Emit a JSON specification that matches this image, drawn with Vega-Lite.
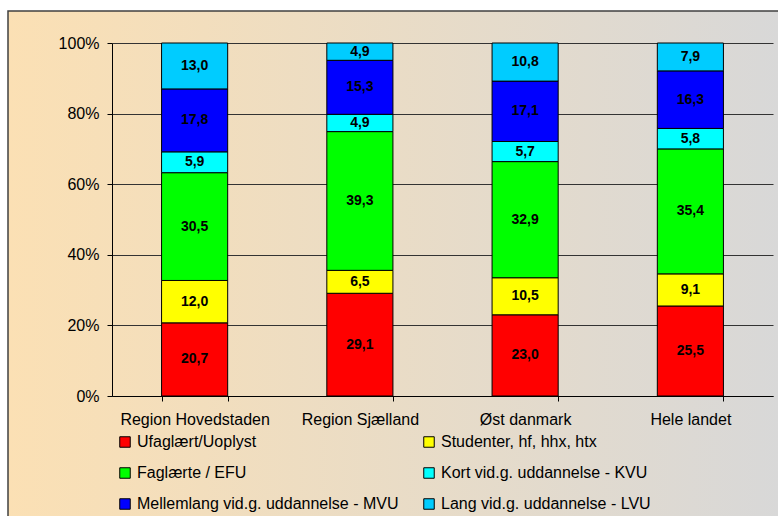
{
  "$schema": "https://vega.github.io/schema/vega-lite/v6.json",
  "width": 778,
  "height": 516,
  "autosize": {"type": "fit", "contains": "padding"},
  "padding": {"left": 8, "top": 11, "right": -3, "bottom": -3},
  "background": "white",
  "config": {
    "font": "Liberation Sans",
    "view": {
      "fill": {"gradient": "linear", "x1": 0, "y1": 0, "x2": 1, "y2": 0,
        "stops": [{"offset": 0, "color": "#FBE0B4"}, {"offset": 1, "color": "#D8D8D8"}]},
      "stroke": "#404040",
      "strokeWidth": 1.5
    },
    "axis": {"labelFont": "Liberation Sans", "labelColor": "#000000", "domainColor": "#000000", "tickColor": "#000000"}
  },
  "data": {"values": [
    {"region": "Region Hovedstaden", "cat": "Ufaglært/Uoplyst", "k": 1, "v": 20.7, "label": "20,7"},
    {"region": "Region Hovedstaden", "cat": "Studenter, hf, hhx, htx", "k": 2, "v": 12.0, "label": "12,0"},
    {"region": "Region Hovedstaden", "cat": "Faglærte / EFU", "k": 3, "v": 30.5, "label": "30,5"},
    {"region": "Region Hovedstaden", "cat": "Kort vid.g. uddannelse - KVU", "k": 4, "v": 5.9, "label": "5,9"},
    {"region": "Region Hovedstaden", "cat": "Mellemlang vid.g. uddannelse - MVU", "k": 5, "v": 17.8, "label": "17,8"},
    {"region": "Region Hovedstaden", "cat": "Lang vid.g. uddannelse - LVU", "k": 6, "v": 13.0, "label": "13,0"},
    {"region": "Region Sjælland", "cat": "Ufaglært/Uoplyst", "k": 1, "v": 29.1, "label": "29,1"},
    {"region": "Region Sjælland", "cat": "Studenter, hf, hhx, htx", "k": 2, "v": 6.5, "label": "6,5"},
    {"region": "Region Sjælland", "cat": "Faglærte / EFU", "k": 3, "v": 39.3, "label": "39,3"},
    {"region": "Region Sjælland", "cat": "Kort vid.g. uddannelse - KVU", "k": 4, "v": 4.9, "label": "4,9"},
    {"region": "Region Sjælland", "cat": "Mellemlang vid.g. uddannelse - MVU", "k": 5, "v": 15.3, "label": "15,3"},
    {"region": "Region Sjælland", "cat": "Lang vid.g. uddannelse - LVU", "k": 6, "v": 4.9, "label": "4,9"},
    {"region": "Øst danmark", "cat": "Ufaglært/Uoplyst", "k": 1, "v": 23.0, "label": "23,0"},
    {"region": "Øst danmark", "cat": "Studenter, hf, hhx, htx", "k": 2, "v": 10.5, "label": "10,5"},
    {"region": "Øst danmark", "cat": "Faglærte / EFU", "k": 3, "v": 32.9, "label": "32,9"},
    {"region": "Øst danmark", "cat": "Kort vid.g. uddannelse - KVU", "k": 4, "v": 5.7, "label": "5,7"},
    {"region": "Øst danmark", "cat": "Mellemlang vid.g. uddannelse - MVU", "k": 5, "v": 17.1, "label": "17,1"},
    {"region": "Øst danmark", "cat": "Lang vid.g. uddannelse - LVU", "k": 6, "v": 10.8, "label": "10,8"},
    {"region": "Hele landet", "cat": "Ufaglært/Uoplyst", "k": 1, "v": 25.5, "label": "25,5"},
    {"region": "Hele landet", "cat": "Studenter, hf, hhx, htx", "k": 2, "v": 9.1, "label": "9,1"},
    {"region": "Hele landet", "cat": "Faglærte / EFU", "k": 3, "v": 35.4, "label": "35,4"},
    {"region": "Hele landet", "cat": "Kort vid.g. uddannelse - KVU", "k": 4, "v": 5.8, "label": "5,8"},
    {"region": "Hele landet", "cat": "Mellemlang vid.g. uddannelse - MVU", "k": 5, "v": 16.3, "label": "16,3"},
    {"region": "Hele landet", "cat": "Lang vid.g. uddannelse - LVU", "k": 6, "v": 7.9, "label": "7,9"}
  ]},
  "encoding": {
    "x": {
      "field": "region", "type": "nominal", "sort": null,
      "scale": {"range": [104, 765], "paddingInner": 0.6, "paddingOuter": 0.3},
      "axis": {"title": null, "orient": "bottom", "offset": -123, "labelAngle": 0, "labelFontSize": 16,
        "labelPadding": 10, "tickSize": 5, "tickBand": "extent", "domainWidth": 1, "grid": false, "labelLimit": 300}
    },
    "y": {
      "field": "v", "type": "quantitative", "stack": "normalize",
      "scale": {"range": [385, 32], "domain": [0, 1]},
      "axis": {"title": null, "offset": -104, "format": ".0%", "values": [0, 0.2, 0.4, 0.6, 0.8, 1],
        "labelFontSize": 16, "labelPadding": 8, "tickSize": 5, "grid": true, "gridColor": "#333333",
        "gridWidth": 1, "gridOpacity": 1, "domainWidth": 1}
    },
    "order": {"field": "k", "type": "quantitative"}
  },
  "layer": [
    {
      "mark": {"type": "bar", "stroke": "#000000", "strokeWidth": 1},
      "encoding": {
        "color": {
          "field": "cat", "type": "nominal",
          "scale": {
            "domain": ["Ufaglært/Uoplyst", "Studenter, hf, hhx, htx", "Faglærte / EFU", "Kort vid.g. uddannelse - KVU", "Mellemlang vid.g. uddannelse - MVU", "Lang vid.g. uddannelse - LVU"],
            "range": ["#FF0000", "#FFFF00", "#00FF00", "#00FFFF", "#0000FF", "#00CCFF"]
          },
          "legend": {
            "title": null, "orient": "none", "legendX": 109, "legendY": 423, "columns": 2,
            "direction": "horizontal", "symbolType": "square", "symbolSize": 110,
            "symbolStrokeColor": "#000000", "symbolStrokeWidth": 1, "symbolOpacity": 1,
            "labelFontSize": 16, "labelColor": "#000000", "labelFont": "Liberation Sans",
            "labelLimit": 400, "labelOffset": 4, "rowPadding": 15, "columnPadding": 22
          }
        }
      }
    },
    {
      "mark": {"type": "text", "fontSize": 14, "fontWeight": "bold", "color": "#000000", "baseline": "middle"},
      "encoding": {
        "y": {"field": "v", "type": "quantitative", "stack": "normalize", "bandPosition": 0.5},
        "text": {"field": "label", "type": "nominal"}
      }
    }
  ]
}
